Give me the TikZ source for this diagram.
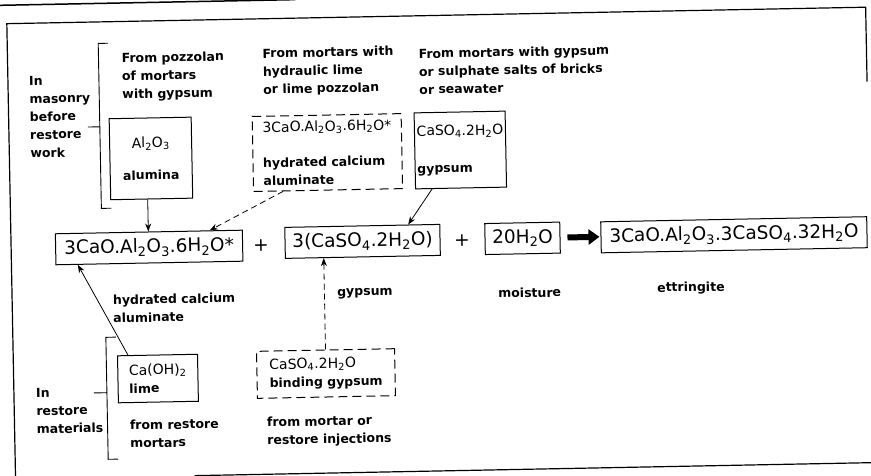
\documentclass[tikz,border=0pt]{standalone}
\usepackage{fontspec}
\setmainfont{DejaVu Sans}
\usepackage{tikz}
\usetikzlibrary{arrows.meta, positioning, calc}

\newcommand{\sbs}[1]{\textsubscript{#1}}
\newcommand{\wordf}{\fontsize{12.5}{18}\selectfont\bfseries}

\begin{document}
\begin{tikzpicture}[x=1pt, y=-1pt, >=Stealth,
  lab/.style={font=\wordf, align=left, inner sep=0pt, anchor=west},
  eqbox/.style={draw, line width=1pt, font=\fontsize{18.5}{22}\selectfont,
    minimum height=31pt, inner sep=0pt},
  srcbox/.style={draw, line width=1pt, font=\fontsize{14}{18}\selectfont,
    align=left, inner sep=0pt},
  srcdash/.style={srcbox, dash pattern=on 9pt off 5pt},
  brace/.style={line width=0.9pt},
  feed/.style={->, line width=0.8pt, >={Stealth[length=8pt,width=6pt]}},
  fat/.style={line width=6pt, -{Triangle[length=11pt,width=15pt]}}]

  \useasboundingbox (0,0) rectangle (871,476);

  \begin{scope}[rotate around={1.1:(435,238)}, transform shape]

  % frame of the scanned figure
  \draw[line width=1.5pt] (-10,-3) -- (300,-3);
  \draw[line width=1.2pt] (870,90) -- (870,15.5) -- (11,15.5) -- (11,490);
  \draw[line width=1.2pt] (190,471) -- (880,471);

  % reaction line
  \node[eqbox, minimum width=187pt] (reac1) at (149,242)
    {3CaO.Al\sbs{2}O\sbs{3}.6H\sbs{2}O*};
  \node[font=\fontsize{18.5}{22}\selectfont] (plusa) at (261,242) {+};
  \node[eqbox, minimum width=155pt] (reac2) at (362.5,240)
    {3(CaSO\sbs{4}.2H\sbs{2}O)};
  \node[font=\fontsize{18.5}{22}\selectfont] (plusb) at (462,241) {+};
  \node[eqbox, minimum width=75pt] (water) at (522.5,240) {20H\sbs{2}O};
  \node[eqbox, minimum width=266pt] (ettr) at (734,240.5)
    {3CaO.Al\sbs{2}O\sbs{3}.3CaSO\sbs{4}.32H\sbs{2}O};
  \draw[fat] ([xshift=7pt]water.east) -- ([xshift=-1pt]ettr.west |- water.east);

  \node[lab] (gyplab) at (336,292) {gypsum};
  \node[lab] (moistlab) at (497,294.5) {moisture};
  \node[lab] (ettrlab) at (656,293) {ettringite};

  % sources in the masonry
  \node[lab] (masonry) at (32,109.3) {In\\masonry\\before\\restore\\work};
  \draw[brace] (112,37) -- (102,37) -- (102,202) -- (112,202);
  \coordinate (brA) at (102,120.4);
  \draw[brace] (brA) -- ++(-12,0);

  \node[lab] (pozz) at (125,71.4) {From pozzolan\\of mortars\\with gypsum};
  \node[srcbox, align=center, minimum width=82pt, minimum height=81pt]
    (alumina) at (152.5,153) {Al\sbs{2}O\sbs{3}\\[14pt]{\wordf alumina}};

  \node[lab] (hydr) at (266,69.3)
    {From mortars with\\hydraulic lime\\or lime pozzolan};
  \node[srcdash, minimum width=149pt, minimum height=75pt] (hydcal)
    at (329,150.5)
    {3CaO.Al\sbs{2}O\sbs{3}.6H\sbs{2}O*\\[17pt]{\wordf hydrated calcium}\\{\wordf aluminate}};

  \node[lab] (sulph) at (422,71.4)
    {From mortars with gypsum\\or sulphate salts of bricks\\or seawater};
  \node[srcbox, minimum width=91pt, minimum height=76pt] (gypbox)
    at (462,150.5) {CaSO\sbs{4}.2H\sbs{2}O\\[19pt]{\wordf gypsum}};

  \draw[feed] ([xshift=-4pt]alumina.south)
    -- ([xshift=-4pt]alumina.south |- reac1.north);
  \draw[feed, dash pattern=on 6pt off 4pt] ([xshift=-45pt]hydcal.south)
    -- ([xshift=61pt]reac1.north);
  \draw[feed] ([xshift=-29pt]gypbox.south) -- ([xshift=46pt]reac2.north);

  % sources in the restore materials
  \node[lab] (restmat) at (33,403.5) {In\\restore\\materials};
  \draw[brace] (114,331) -- (104,331) -- (104,453) -- (114,453);
  \coordinate (brB) at (104,386.4);
  \draw[brace] (brB) -- ++(-13,0);

  \node[srcbox, minimum width=80pt, minimum height=47pt] (lime)
    at (155.3,373.2) {Ca(OH)\sbs{2}\\{\wordf lime}};
  \node[lab] (hydcallab) at (111.7,302.9) {hydrated calcium\\aluminate};
  \node[lab] (mortlab) at (126.2,428.3) {from restore\\mortars};

  \node[srcdash, minimum width=138pt, minimum height=47pt] (bindgyp)
    at (323.4,371.4) {CaSO\sbs{4}.2H\sbs{2}O\\{\wordf binding gypsum}};
  \node[lab] (injlab) at (263.3,429.1) {from mortar or\\restore injections};

  \draw[feed] ([xshift=-29.5pt]lime.north) -- ([xshift=-71.6pt]reac1.south);
  \draw[feed, dash pattern=on 6pt off 4pt] (bindgyp.north)
    -- (bindgyp.north |- reac2.south);

  \end{scope}
\end{tikzpicture}
\end{document}
